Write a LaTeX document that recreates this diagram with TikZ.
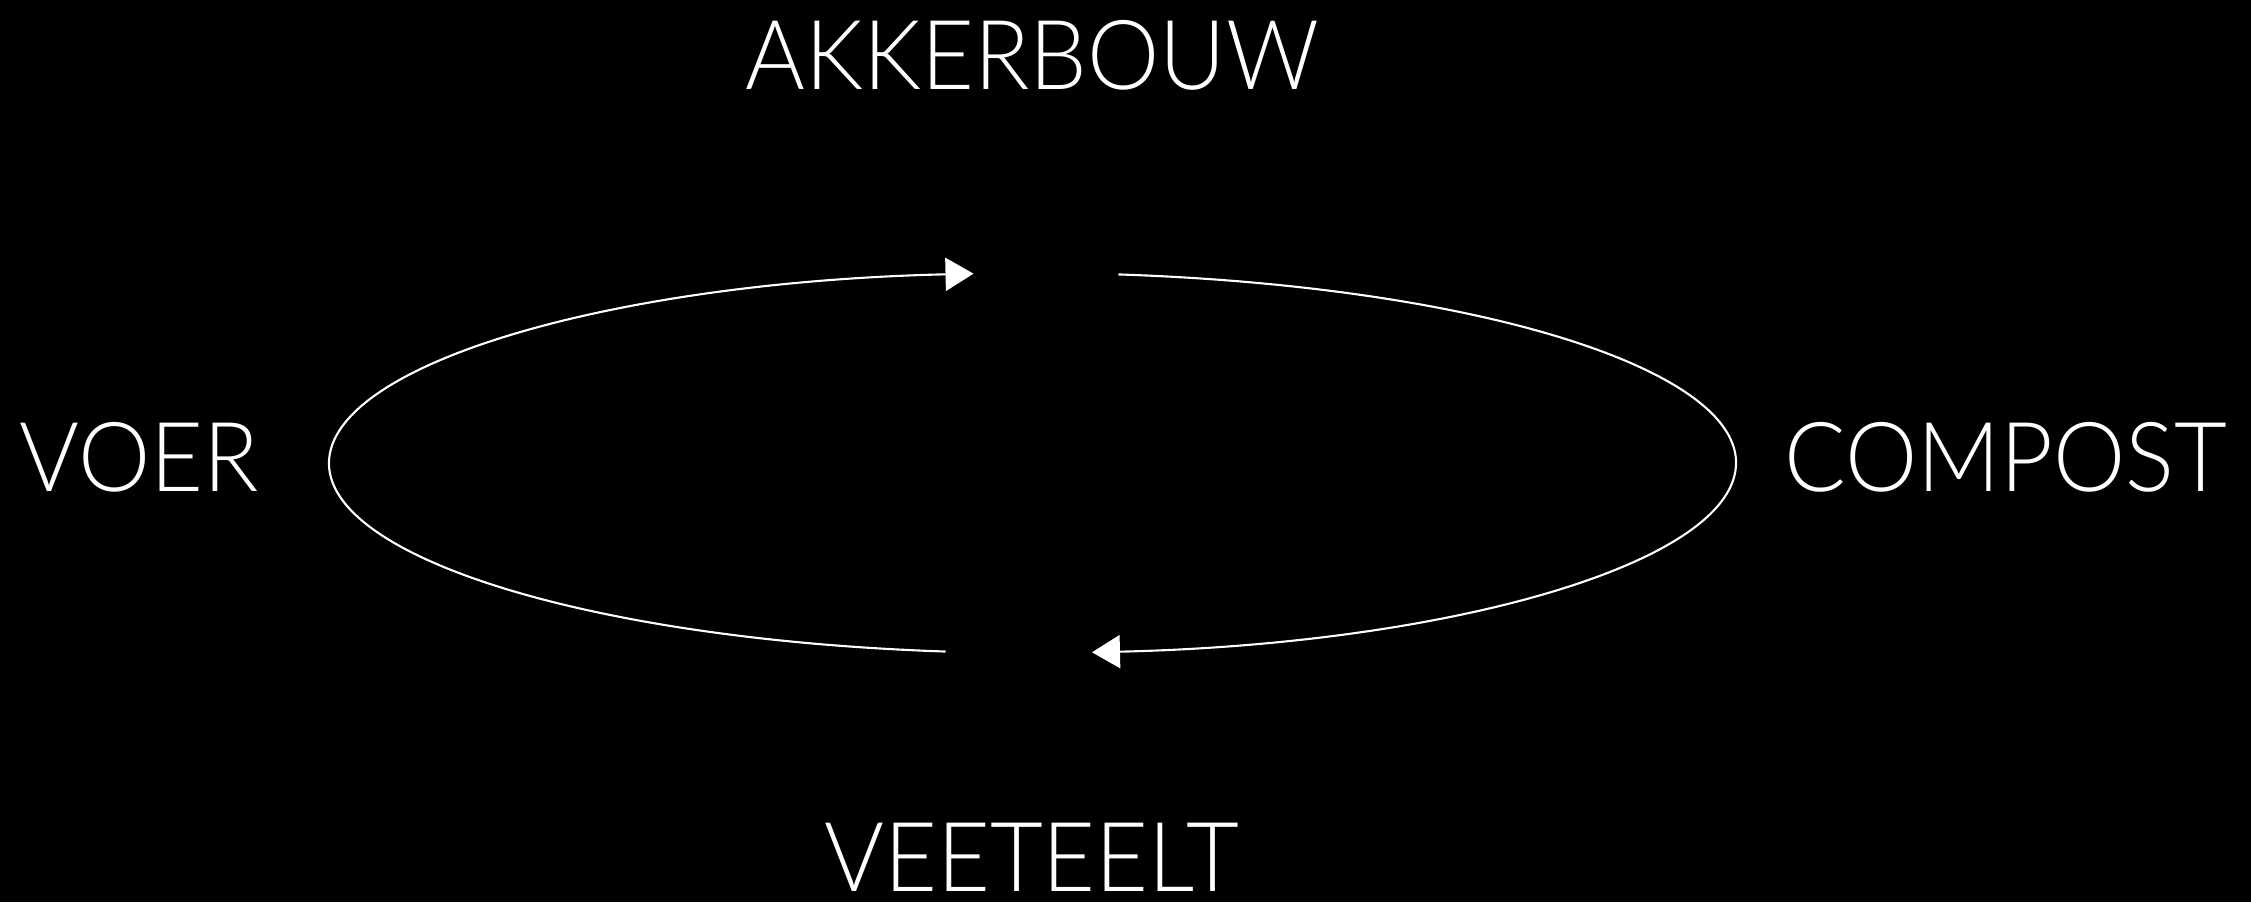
\documentclass[tikz,border=0pt]{standalone}
\usepackage{fontspec}
\setmainfont{Lato}[UprightFont={* Light}, FakeStretch=0.945]
\usetikzlibrary{arrows.meta,positioning,calc}
\tikzset{
  term/.style={text=white, inner sep=0pt, font=\fontsize{27.5}{30}\selectfont},
  flow/.style={draw=white, line width=0.6pt, -{Triangle[length=2.8mm, width=3.3mm]}},
}

\begin{document}
\begin{tikzpicture}
  % black page
  \fill[black] (0,0) rectangle (22.51,9.02);
  \useasboundingbox (0,0) rectangle (22.51,9.02);

  % centre of the cycle
  \coordinate (hub) at (10.325,4.39);

  % the four terms
  \node[term, anchor=base] (akker) at (10.32,8.13) {AKKERBOUW};
  \node[term, anchor=base west] (voer) at (0.19,4.11) {VOER};
  \node[term, anchor=base east] (compost) at (22.28,4.11) {COMPOST};
  \node[term, anchor=base] (vee) at (10.315,0.11) {VEETEELT};

  % arc ends on the ellipse
  \coordinate (topR) at ($(hub)+(82.98:7.035cm and 1.9cm)$);
  \coordinate (botL) at ($(hub)+(262.9:7.035cm and 1.9cm)$);

  % cycle
  \draw[flow] (topR) arc[start angle=82.98, end angle=-85.15, x radius=7.035, y radius=1.9];
  \draw[flow] (botL) arc[start angle=262.9, end angle=94.81, x radius=7.035, y radius=1.9];
\end{tikzpicture}
\end{document}
